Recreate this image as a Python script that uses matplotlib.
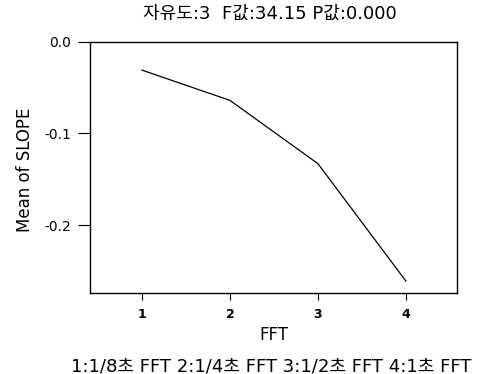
import matplotlib
matplotlib.use('Agg')
from matplotlib import pyplot as plt

# FFT 수준별 SLOPE 평균
fft_levels = [1, 2, 3, 4]
slope_means = [-0.031, -0.064, -0.133, -0.261]
y_ticks = [0.0, -0.1, -0.2]
y_tick_labels = ['0.0', '-0.1', '-0.2']

title_text = '자유도:3  F값:34.15 P값:0.000'
note_text = '1:1/8초 FFT 2:1/4초 FFT 3:1/2초 FFT 4:1초 FFT'

plt.rcParams['font.family'] = ['DejaVu Sans', 'Noto Sans CJK KR']

fig = plt.figure(figsize=(4.8, 3.74), dpi=100)
ax = fig.add_axes([0.1875, 0.2166, 0.7645, 0.672])

ax.plot(fft_levels, slope_means, color='black', linewidth=0.9)

ax.set_xlim(0.41, 4.58)
ax.set_ylim(-0.274, 0.0)
ax.set_xticks(fft_levels)
ax.set_xticklabels([str(i) for i in fft_levels], fontsize=9, fontweight='bold')
ax.set_yticks(y_ticks)
ax.set_yticklabels(y_tick_labels, fontsize=10)
ax.tick_params(axis='y', direction='out', length=8.5, width=0.8, pad=5)
ax.tick_params(axis='x', direction='out', length=5, width=0.8, pad=6)

for side in ax.spines.values():
    side.set_linewidth(1.0)

ax.set_ylabel('Mean of SLOPE', fontsize=12)
ax.yaxis.set_label_coords(-0.152, 0.49)
ax.set_xlabel('FFT', fontsize=12)
ax.xaxis.set_label_coords(0.5, -0.13)

fig.text(0.5625, 0.962, title_text, ha='center', va='center', fontsize=13)
fig.text(0.566, 0.021, note_text, ha='center', va='center', fontsize=13)

fig.savefig('out.png', dpi=100)
